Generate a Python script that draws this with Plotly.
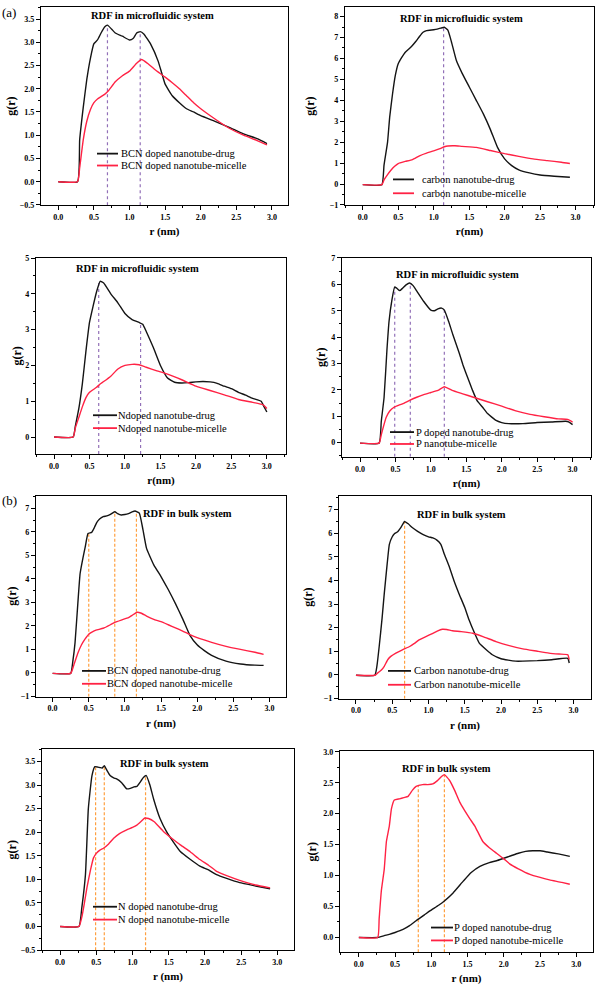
import plotly.graph_objects as go

# ---------------- data ----------------
# (a) microfluidic, BCN doped
r1_drug = [0, 0.27, 0.3, 0.35, 0.4, 0.45, 0.5, 0.55, 0.6, 0.65, 0.69, 0.75, 0.8, 0.9, 1.0, 1.05, 1.1, 1.15, 1.2, 1.3, 1.4, 1.45, 1.5, 1.6, 1.7, 1.8, 1.9, 2.0, 2.2, 2.4, 2.6, 2.8, 2.93]
g1_drug = [0, 0, 0.9, 1.6, 2.2, 2.65, 2.97, 3.05, 3.2, 3.33, 3.37, 3.28, 3.2, 3.13, 3.05, 3.08, 3.2, 3.23, 3.18, 2.95, 2.6, 2.35, 2.1, 1.85, 1.7, 1.57, 1.5, 1.42, 1.3, 1.17, 1.03, 0.92, 0.82]
r1_mic = [0, 0.27, 0.3, 0.35, 0.4, 0.45, 0.5, 0.55, 0.6, 0.65, 0.7, 0.8, 0.9, 1.0, 1.1, 1.17, 1.25, 1.35, 1.5, 1.6, 1.7, 1.8, 1.9, 2.0, 2.2, 2.4, 2.6, 2.8, 2.93]
g1_mic = [0, 0, 0.3, 0.9, 1.3, 1.55, 1.7, 1.78, 1.83, 1.88, 1.95, 2.15, 2.28, 2.38, 2.55, 2.63, 2.55, 2.42, 2.25, 2.13, 2.0, 1.85, 1.7, 1.57, 1.35, 1.15, 1.0, 0.88, 0.79]
peaks1_r = [0.69, 1.15]
peaks1_g = [3.37, 3.23]

# (a) microfluidic, carbon
r2_drug = [0, 0.27, 0.3, 0.35, 0.38, 0.42, 0.46, 0.5, 0.55, 0.6, 0.65, 0.7, 0.75, 0.8, 0.85, 0.9, 1.0, 1.05, 1.1, 1.15, 1.2, 1.25, 1.32, 1.4, 1.5, 1.6, 1.7, 1.8, 1.9, 2.0, 2.1, 2.2, 2.35, 2.5, 2.7, 2.92]
g2_drug = [-0.03, -0.03, 0.9, 2.0, 3.2, 4.3, 5.2, 5.75, 6.05, 6.3, 6.45, 6.62, 6.82, 7.05, 7.25, 7.33, 7.37, 7.4, 7.45, 7.49, 7.35, 6.8, 5.9, 5.3, 4.65, 4.0, 3.35, 2.6, 1.75, 1.2, 0.88, 0.68, 0.53, 0.43, 0.37, 0.32]
r2_mic = [0, 0.27, 0.3, 0.35, 0.4, 0.45, 0.5, 0.6, 0.7, 0.8, 0.9, 1.0, 1.1, 1.15, 1.2, 1.3, 1.4, 1.6, 1.8, 2.0, 2.2, 2.4, 2.6, 2.8, 2.92]
g2_mic = [-0.03, -0.03, 0.2, 0.45, 0.67, 0.85, 0.98, 1.08, 1.17, 1.35, 1.48, 1.58, 1.7, 1.78, 1.82, 1.83, 1.8, 1.75, 1.6, 1.45, 1.32, 1.2, 1.12, 1.04, 0.98]
peaks2_r = [1.14]
peaks2_g = [7.49]

# (a) microfluidic, N doped
r3_drug = [0, 0.27, 0.3, 0.35, 0.4, 0.45, 0.5, 0.55, 0.6, 0.65, 0.7, 0.8, 0.9, 1.0, 1.1, 1.2, 1.25, 1.3, 1.4, 1.5, 1.6, 1.7, 1.8, 1.9, 2.0, 2.1, 2.2, 2.3, 2.4, 2.5, 2.6, 2.7, 2.8, 2.92, 2.96, 3.0]
g3_drug = [0, 0, 0.3, 0.8, 1.5, 2.4, 3.2, 3.65, 4.06, 4.35, 4.3, 4.0, 3.75, 3.45, 3.28, 3.2, 3.15, 2.95, 2.5, 2.0, 1.65, 1.53, 1.51, 1.52, 1.54, 1.55, 1.54, 1.5, 1.42, 1.35, 1.25, 1.17, 1.08, 1.0, 0.85, 0.7]
r3_mic = [0, 0.27, 0.3, 0.35, 0.4, 0.45, 0.5, 0.6, 0.65, 0.7, 0.8, 0.9, 1.0, 1.1, 1.2, 1.3, 1.45, 1.6, 1.8, 2.0, 2.2, 2.4, 2.6, 2.8, 2.95, 3.0]
g3_mic = [0, 0, 0.25, 0.55, 0.85, 1.1, 1.25, 1.39, 1.48, 1.55, 1.7, 1.9, 2.0, 2.03, 2.02, 1.95, 1.85, 1.76, 1.6, 1.42, 1.3, 1.18, 1.05, 0.97, 0.9, 0.8]
peaks3_r = [0.63, 1.22]
peaks3_g = [4.35, 3.2]

# (a) microfluidic, P doped
r4_drug = [0, 0.27, 0.3, 0.34, 0.38, 0.41, 0.45, 0.49, 0.52, 0.56, 0.6, 0.65, 0.7, 0.75, 0.8, 0.9, 1.0, 1.05, 1.1, 1.15, 1.19, 1.25, 1.31, 1.4, 1.45, 1.5, 1.59, 1.65, 1.73, 1.8, 1.92, 2.0, 2.1, 2.3, 2.5, 2.7, 2.9, 2.95, 3.0]
g4_drug = [-0.02, -0.02, 0.8, 1.72, 3.5, 4.6, 5.4, 5.9, 5.85, 5.76, 5.85, 5.98, 6.05, 5.95, 5.75, 5.35, 5.02, 5.0, 5.07, 5.1, 5.02, 4.6, 4.1, 3.4, 2.97, 2.6, 1.97, 1.6, 1.34, 1.1, 0.84, 0.76, 0.72, 0.72, 0.76, 0.78, 0.81, 0.78, 0.68]
r4_mic = [0, 0.27, 0.3, 0.37, 0.42, 0.48, 0.55, 0.6, 0.7, 0.8, 0.9, 1.0, 1.1, 1.19, 1.3, 1.45, 1.6, 1.8, 2.0, 2.2, 2.4, 2.6, 2.8, 2.93, 3.0]
g4_mic = [-0.02, -0.02, 0.3, 0.96, 1.2, 1.34, 1.42, 1.47, 1.6, 1.72, 1.82, 1.9, 1.98, 2.12, 1.98, 1.85, 1.72, 1.55, 1.38, 1.2, 1.07, 0.98, 0.9, 0.88, 0.78]
peaks4_r = [0.49, 0.71, 1.19]
peaks4_g = [5.9, 6.05, 5.1]

# (b) bulk, BCN doped
r5_drug = [0, 0.25, 0.28, 0.31, 0.35, 0.38, 0.42, 0.45, 0.49, 0.54, 0.58, 0.61, 0.65, 0.7, 0.75, 0.8, 0.86, 0.9, 0.95, 1.0, 1.05, 1.1, 1.14, 1.2, 1.25, 1.3, 1.4, 1.5, 1.6, 1.7, 1.8, 1.9, 2.0, 2.1, 2.2, 2.4, 2.6, 2.8, 2.92]
g5_drug = [-0.02, -0.02, 0.5, 1.28, 3.0, 4.22, 4.9, 5.34, 5.93, 5.98, 6.2, 6.4, 6.55, 6.65, 6.68, 6.75, 6.86, 6.78, 6.72, 6.74, 6.78, 6.85, 6.89, 6.8, 6.1, 5.3, 4.6, 4.1, 3.55, 2.95, 2.3, 1.6, 1.2, 0.95, 0.75, 0.5, 0.38, 0.33, 0.32]
r5_mic = [0, 0.25, 0.3, 0.35, 0.4, 0.45, 0.5, 0.55, 0.6, 0.7, 0.8, 0.86, 0.95, 1.05, 1.1, 1.17, 1.22, 1.3, 1.4, 1.5, 1.6, 1.7, 1.8, 1.9, 2.0, 2.2, 2.4, 2.6, 2.8, 2.92]
g5_mic = [-0.02, -0.02, 0.4, 0.85, 1.2, 1.45, 1.65, 1.75, 1.82, 1.9, 2.05, 2.15, 2.25, 2.35, 2.45, 2.58, 2.55, 2.42, 2.28, 2.18, 2.05, 1.92, 1.78, 1.63, 1.5, 1.3, 1.13, 1.0, 0.88, 0.79]
peaks5_r = [0.5, 0.86, 1.16]
peaks5_g = [5.9, 6.88, 6.85]

# (b) bulk, carbon
r6_drug = [0, 0.26, 0.29, 0.32, 0.36, 0.39, 0.43, 0.46, 0.5, 0.53, 0.57, 0.62, 0.67, 0.72, 0.78, 0.85, 0.92, 1.0, 1.06, 1.12, 1.17, 1.22, 1.29, 1.35, 1.42, 1.5, 1.56, 1.63, 1.7, 1.8, 1.88, 2.0, 2.1, 2.2, 2.3, 2.5, 2.7, 2.92, 2.94]
g6_drug = [-0.02, -0.02, 0.4, 1.2, 2.4, 3.44, 4.7, 5.53, 5.85, 5.98, 6.05, 6.25, 6.5, 6.4, 6.23, 6.08, 5.95, 5.85, 5.8, 5.7, 5.53, 5.1, 4.55, 4.0, 3.44, 2.85, 2.32, 1.8, 1.34, 1.05, 0.85, 0.68, 0.62, 0.58, 0.58, 0.6, 0.64, 0.7, 0.5]
r6_mic = [0, 0.26, 0.3, 0.35, 0.39, 0.44, 0.48, 0.55, 0.64, 0.74, 0.8, 0.87, 0.95, 1.06, 1.12, 1.19, 1.25, 1.33, 1.45, 1.61, 1.75, 1.93, 2.1, 2.3, 2.5, 2.66, 2.8, 2.92, 2.94]
g6_mic = [-0.02, -0.02, 0.08, 0.2, 0.36, 0.65, 0.78, 0.92, 1.06, 1.2, 1.32, 1.48, 1.6, 1.76, 1.85, 1.93, 1.92, 1.87, 1.83, 1.76, 1.62, 1.41, 1.25, 1.1, 1.0, 0.92, 0.88, 0.85, 0.64]
peaks6_r = [0.67]
peaks6_g = [6.5]

# (b) bulk, N doped
r7_drug = [0, 0.26, 0.3, 0.35, 0.39, 0.44, 0.48, 0.52, 0.55, 0.58, 0.61, 0.65, 0.69, 0.74, 0.78, 0.85, 0.92, 0.97, 1.02, 1.06, 1.1, 1.15, 1.19, 1.24, 1.29, 1.38, 1.47, 1.56, 1.66, 1.8, 1.93, 2.05, 2.16, 2.3, 2.48, 2.7, 2.9]
g7_drug = [0, 0, 0.4, 1.1, 2.5, 3.2, 3.39, 3.38, 3.37, 3.36, 3.41, 3.3, 3.2, 3.15, 3.13, 3.05, 2.92, 2.93, 2.96, 2.97, 3.05, 3.16, 3.2, 3.0, 2.71, 2.29, 2.01, 1.8, 1.59, 1.42, 1.28, 1.2, 1.1, 1.02, 0.93, 0.86, 0.8]
r7_mic = [0, 0.26, 0.3, 0.33, 0.37, 0.42, 0.46, 0.5, 0.55, 0.6, 0.67, 0.74, 0.82, 0.92, 1.0, 1.06, 1.12, 1.17, 1.22, 1.3, 1.43, 1.55, 1.66, 1.8, 1.93, 2.05, 2.16, 2.3, 2.48, 2.7, 2.9]
g7_mic = [0, 0, 0.2, 0.45, 0.82, 1.2, 1.45, 1.55, 1.62, 1.66, 1.75, 1.87, 1.97, 2.05, 2.1, 2.15, 2.23, 2.3, 2.29, 2.22, 2.01, 1.86, 1.73, 1.58, 1.42, 1.3, 1.17, 1.08, 0.98, 0.88, 0.82]
peaks7_r = [0.49, 0.61, 1.18]
peaks7_g = [3.4, 3.41, 3.2]

# (b) bulk, P doped
r8_drug = [0, 0.26, 0.35, 0.42, 0.5, 0.61, 0.7, 0.79, 0.9, 0.98, 1.1, 1.18, 1.3, 1.44, 1.55, 1.67, 1.8, 1.9, 2.0, 2.1, 2.2, 2.3, 2.4, 2.5, 2.6, 2.75, 2.91]
g8_drug = [0, 0, 0.03, 0.05, 0.08, 0.13, 0.19, 0.27, 0.36, 0.43, 0.52, 0.59, 0.72, 0.91, 1.05, 1.15, 1.21, 1.24, 1.28, 1.32, 1.36, 1.39, 1.4, 1.4, 1.38, 1.35, 1.31]
r8_mic = [0, 0.26, 0.28, 0.31, 0.35, 0.38, 0.42, 0.45, 0.49, 0.56, 0.62, 0.68, 0.74, 0.79, 0.88, 0.95, 1.02, 1.08, 1.14, 1.18, 1.25, 1.32, 1.39, 1.46, 1.53, 1.6, 1.71, 1.8, 1.9, 2.0, 2.08, 2.2, 2.36, 2.5, 2.63, 2.8, 2.91]
g8_mic = [0, 0, 0.3, 0.75, 1.1, 1.55, 1.8, 2.08, 2.22, 2.24, 2.26, 2.28, 2.38, 2.44, 2.47, 2.47, 2.48, 2.53, 2.6, 2.63, 2.54, 2.38, 2.19, 2.05, 1.92, 1.8, 1.55, 1.45, 1.36, 1.27, 1.19, 1.11, 1.02, 0.97, 0.93, 0.89, 0.86]
peaks8_r = [0.82, 1.18]
peaks8_g = [2.45, 2.63]

titles = ["RDF in microfluidic system"] * 4 + ["RDF in bulk system"] * 4
xtitles = ["r (nm)", "r(nm)", "r(nm)", "r(nm)", "r (nm)", "r (nm)", "r (nm)", "r (nm)"]
legend_drug = ["BCN doped nanotube-drug", "carbon nanotube-drug", "Ndoped nanotube-drug",
               "P doped nanotube-drug", "BCN doped nanotube-drug", "Carbon nanotube-drug",
               "N doped nanotube-drug", "P doped nanotube-drug"]
legend_mic = ["BCN doped nanotube-micelle", "carbon nanotube-micelle", "Ndoped nanotube-micelle",
              "P nanotube-micelle", "BCN doped nanotube-micelle", "Carbon nanotube-micelle",
              "N doped nanotube-micelle", "P doped nanotube-micelle"]

series = [
    (r1_drug, g1_drug, r1_mic, g1_mic, peaks1_r, peaks1_g),
    (r2_drug, g2_drug, r2_mic, g2_mic, peaks2_r, peaks2_g),
    (r3_drug, g3_drug, r3_mic, g3_mic, peaks3_r, peaks3_g),
    (r4_drug, g4_drug, r4_mic, g4_mic, peaks4_r, peaks4_g),
    (r5_drug, g5_drug, r5_mic, g5_mic, peaks5_r, peaks5_g),
    (r6_drug, g6_drug, r6_mic, g6_mic, peaks6_r, peaks6_g),
    (r7_drug, g7_drug, r7_mic, g7_mic, peaks7_r, peaks7_g),
    (r8_drug, g8_drug, r8_mic, g8_mic, peaks8_r, peaks8_g),
]

# ---------------- layout geometry (pixels) ----------------
W, H = 596, 992


def fx(px):
    return px / W


def fy(py):
    return 1 - py / H


FRAMES = [(41, 288, 3, 203), (345, 594, 3, 203), (36, 286, 256, 454), (342, 591, 256, 457),
          (36, 286, 496, 699), (339, 591, 496, 701), (42, 294, 752, 955), (340, 593, 754, 957)]
XRANGES = [(-0.243, 3.225), (-0.25, 3.26), (-0.254, 3.27), (-0.254, 3.26),
           (-0.23, 3.23), (-0.234, 3.24), (-0.25, 3.23), (-0.26, 3.23)]
YRANGES = [(-0.505, 3.76), (-1.01, 8.46), (-0.47, 5.01), (-0.54, 7.01),
           (-1.01, 7.55), (-1.01, 7.6), (-0.505, 3.76), (-0.24, 3.01)]
YDTICK = [0.5, 1, 1, 1, 1, 1, 0.5, 0.5]
YFMT = [".1f", "d", "d", "d", "d", "d", ".1f", ".1f"]
TITLE_POS = [(152, 12), (461, 15), (137, 267), (457, 273), (187, 514), (461, 515), (164, 766), (446, 771)]
LEG_POS = [(97, 118, 121, 151, 163), (393, 414, 422, 177, 191), (93, 117, 118, 415, 428),
           (390, 414, 416, 432, 444), (82, 106, 107, 673, 686), (388, 411, 414, 673, 687),
           (93, 117, 118, 911, 924), (431, 453, 454, 932, 945)]
YTITLE_STANDOFF = [1, 12, 1, 3, 1, 8, 1, 4]

BLACK = "#141414"
RED = "#ff2244"
PURPLE = "#9270b8"
ORANGE = "#ffa040"
SERIF = "Liberation Serif, Times New Roman, serif"

fig = go.Figure()
shapes = []
annotations = []
layout = {}

for i in range(8):
    n = "" if i == 0 else str(i + 1)
    xa, ya = "x" + n, "y" + n
    rd, gd, rm, gm, pr, pg = series[i]
    fig.add_trace(go.Scatter(x=rd, y=gd, mode="lines", xaxis=xa, yaxis=ya,
                             line=dict(color=BLACK, width=1.4, shape="spline", smoothing=0.4),
                             name=legend_drug[i], showlegend=False))
    fig.add_trace(go.Scatter(x=rm, y=gm, mode="lines", xaxis=xa, yaxis=ya,
                             line=dict(color=RED, width=1.4, shape="spline", smoothing=0.4),
                             name=legend_mic[i], showlegend=False))
    l, r, t, b = FRAMES[i]
    vcol = PURPLE if i < 4 else ORANGE
    vdash = "dot" if i < 4 else "3px,2px"
    for px_, pg_ in zip(pr, pg):
        shapes.append(dict(type="line", xref=xa, yref=ya, x0=px_, x1=px_, y0=YRANGES[i][0], y1=pg_,
                           line=dict(color=vcol, width=1.2, dash=vdash), layer="below"))
    axis_common = dict(showline=True, mirror=True, linecolor="black", linewidth=1.2,
                       ticks="outside", ticklen=4, tickwidth=1, tickcolor="black",
                       showgrid=False, zeroline=False,
                       tickfont=dict(family=SERIF, size=8, color="black", weight="bold"))
    layout["xaxis" + n] = dict(axis_common, domain=[fx(l), fx(r)], range=list(XRANGES[i]),
                               anchor=ya, tick0=0, dtick=0.5, tickformat=".1f",
                               minor=dict(ticks="outside", ticklen=2, dtick=0.25, tickcolor="black"),
                               title=dict(text=xtitles[i], standoff=6,
                                          font=dict(family=SERIF, size=11, color="black", weight="bold")))
    layout["yaxis" + n] = dict(axis_common, domain=[fy(b), fy(t)], range=list(YRANGES[i]),
                               anchor=xa, tick0=0, dtick=YDTICK[i], tickformat=YFMT[i],
                               minor=dict(ticks="outside", ticklen=2, dtick=YDTICK[i] / 2, tickcolor="black"),
                               title=dict(text="g(r)", standoff=YTITLE_STANDOFF[i],
                                          font=dict(family=SERIF, size=12, color="black", weight="bold")))
    tx, ty = TITLE_POS[i]
    annotations.append(dict(text=titles[i], x=fx(tx), y=fy(ty), xref="paper", yref="paper",
                            showarrow=False, xanchor="center", yanchor="middle",
                            font=dict(family=SERIF, size=10.5, color="black", weight="bold")))
    lx0, lx1, ltx, ly1, ly2 = LEG_POS[i]
    for yy, col, txt in ((ly1, BLACK, legend_drug[i]), (ly2, RED, legend_mic[i])):
        shapes.append(dict(type="line", xref="paper", yref="paper", x0=fx(lx0), x1=fx(lx1),
                           y0=fy(yy), y1=fy(yy), line=dict(color=col, width=1.8)))
        annotations.append(dict(text=txt, x=fx(ltx - 2), y=fy(yy), xref="paper", yref="paper",
                                showarrow=False, xanchor="left", yanchor="middle",
                                font=dict(family=SERIF, size=10.5, color="black")))

annotations.append(dict(text="(a)", x=fx(0), y=fy(9), xref="paper", yref="paper", showarrow=False,
                        xanchor="left", yanchor="middle", font=dict(family=SERIF, size=13, color="black")))
annotations.append(dict(text="(b)", x=fx(0), y=fy(501), xref="paper", yref="paper", showarrow=False,
                        xanchor="left", yanchor="middle", font=dict(family=SERIF, size=13, color="black")))

fig.update_layout(**layout)
fig.update_layout(width=W, height=H, margin=dict(l=0, r=0, t=0, b=0),
                  paper_bgcolor="white", plot_bgcolor="white",
                  shapes=shapes, annotations=annotations, showlegend=False)
fig.write_html("out.html", config={"displayModeBar": False},
               post_script="document.body.style.margin='0px';document.body.style.overflow='hidden';")
